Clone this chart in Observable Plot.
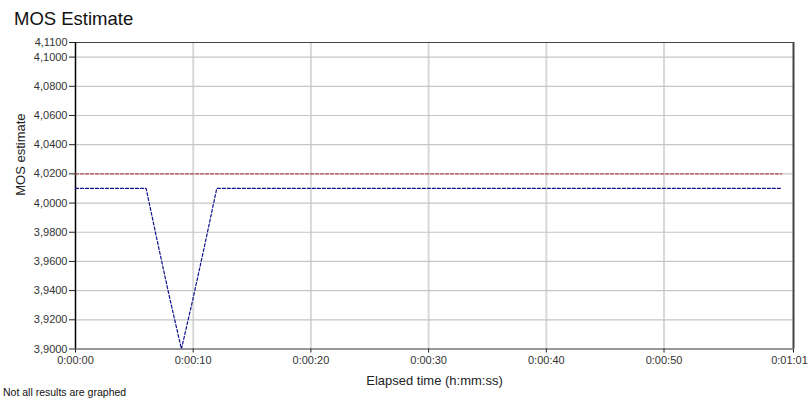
<!DOCTYPE html>
<html>
<head>
<meta charset="utf-8">
<script src="https://cdn.jsdelivr.net/npm/d3@7"></script>
<script src="https://cdn.jsdelivr.net/npm/@observablehq/plot@0.6"></script>
<style>
  html, body { margin: 0; padding: 0; background: #fff; }
  #chart { position: relative; width: 810px; height: 400px; overflow: hidden; font-family: "Liberation Sans", Arial, sans-serif; }
  #title { position: absolute; left: 14px; top: 10px; font-size: 18.5px; line-height: 1; color: #111; white-space: nowrap; }
  #note { position: absolute; left: 3px; top: 387px; font-size: 10.5px; line-height: 1; color: #111; white-space: nowrap; }
  #plot { position: absolute; left: 0; top: 34px; }
</style>
</head>
<body>
<div id="chart">
  <div id="title">MOS Estimate</div>
  <div id="plot"></div>
  <div id="note">Not all results are graphed</div>
</div>
<script>
// MOS estimate samples (elapsed seconds -> score)
const seconds = [0, 6, 7, 8, 9, 10, 11, 12, 60];
const mosEstimate = [4.01, 4.01, 3.972, 3.935, 3.90, 3.935, 3.972, 4.01, 4.01];

// Reference level
const refSeconds = [0, 60];
const refMos = [4.02, 4.02];

// Axis ticks
const xTicks = [0, 10, 20, 30, 40, 50, 61];
const xEnd = 61;
const xGrid = [10, 20, 30, 40, 50];
const yTicks = [3.90, 3.92, 3.94, 3.96, 3.98, 4.00, 4.02, 4.04, 4.06, 4.08, 4.10, 4.11];
const yGrid = [3.92, 3.94, 3.96, 3.98, 4.00, 4.02, 4.04, 4.06, 4.08, 4.10];

const series = seconds.map((t, i) => ({t, v: mosEstimate[i]}));
const reference = refSeconds.map((t, i) => ({t, v: refMos[i]}));

const fmtTime = s => {
  const h = Math.floor(s / 3600), m = Math.floor((s % 3600) / 60), sec = s % 60;
  return `${h}:${String(m).padStart(2, "0")}:${String(sec).padStart(2, "0")}`;
};
const fmtMos = v => d3.format(".4f")(v).replace(".", ",");

const chart = Plot.plot({
  width: 810,
  height: 366,
  marginTop: 8,
  marginLeft: 75,
  marginRight: 17,
  marginBottom: 51.5,
  style: {fontFamily: "'Liberation Sans', Arial, sans-serif", fontSize: "11px", color: "#333", background: "#fff"},
  x: {domain: [0, xEnd]},
  y: {domain: [3.90, 4.11]},
  marks: [
    Plot.gridX(xGrid, {stroke: "#d9d9d9", strokeWidth: 2, strokeOpacity: 1}),
    Plot.gridY(yGrid, {stroke: "#c6c6c6", strokeWidth: 1.2, strokeOpacity: 1}),
    Plot.axisY(yTicks, {tickFormat: fmtMos, tickSize: 6, tickPadding: 2, label: null, stroke: "#222"}),
    // the last label sits at the right edge, so it is nudged inward
    Plot.axisX(xTicks, {tickFormat: s => (s === xEnd ? "" : fmtTime(s)), tickSize: 4, tickPadding: 3, label: null, stroke: "#222"}),
    Plot.axisX([xEnd], {tickFormat: fmtTime, tickSize: 0, tickPadding: 7, label: null, dx: -4}),
    Plot.ruleY([4.11], {stroke: "#444", strokeWidth: 1.2}),
    Plot.ruleX([xEnd], {stroke: "#444", strokeWidth: 2}),
    Plot.ruleY([3.90], {stroke: "#333", strokeWidth: 1.2}),
    Plot.ruleX([0], {stroke: "#000", strokeWidth: 1.5}),
    Plot.line(reference, {x: "t", y: "v", stroke: "#b04848", strokeWidth: 1.2, strokeDasharray: "3,2", clip: true}),
    Plot.line(series, {x: "t", y: "v", stroke: "#10108a", strokeWidth: 1.2, strokeDasharray: "3,2", clip: true}),
    Plot.text(["MOS estimate"], {text: d => d, frameAnchor: "left", dx: -55, rotate: -90, fontSize: 13, fill: "#222"}),
    Plot.text(["Elapsed time (h:mm:ss)"], {text: d => d, frameAnchor: "bottom", dy: 36, fontSize: 13, fill: "#222"})
  ]
});
document.getElementById("plot").appendChild(chart);
</script>
</body>
</html>
